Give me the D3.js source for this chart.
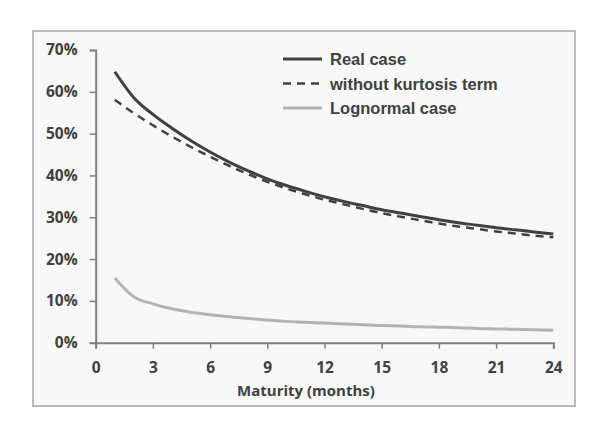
<!DOCTYPE html>
<html lang="en">
  <head>
    <meta charset="UTF-8" />
    <title>Maturity chart</title>
    <style>
      body { margin: 0; background: #fff; }
    </style>
  </head>
  <body>
    <svg id="svg" width="606" height="428"></svg>
    <script src="https://d3js.org/d3.v7.min.js"></script>
    <script>
      // data (percent, by maturity in months)
      const months = [1, 2, 3, 4, 5, 6, 7, 8, 9, 10, 11, 12, 13, 14, 15, 16, 17, 18, 19, 20, 21, 22, 23, 24];
      const realCase = [64.8, 58.6, 54.6, 51.3, 48.3, 45.6, 43.2, 41.1, 39.2, 37.6, 36.2, 34.9, 33.8, 32.8, 31.8, 31.0, 30.2, 29.4, 28.7, 28.1, 27.5, 27.0, 26.5, 26.0];
      const noKurtosis = [58.1, 54.9, 52.0, 49.3, 46.8, 44.5, 42.3, 40.3, 38.5, 36.9, 35.5, 34.2, 33.1, 32.0, 31.0, 30.1, 29.3, 28.5, 27.8, 27.2, 26.6, 26.1, 25.6, 25.2];
      const lognormal = [15.5, 11.0, 9.3, 8.1, 7.3, 6.7, 6.2, 5.8, 5.4, 5.1, 4.9, 4.7, 4.5, 4.3, 4.1, 4.0, 3.8, 3.7, 3.6, 3.4, 3.3, 3.2, 3.1, 3.0];
      const xTicks = [0, 3, 6, 9, 12, 15, 18, 21, 24];
      const yTicks = [0, 10, 20, 30, 40, 50, 60, 70];

      const series = [
        { name: "Real case", values: realCase, color: "#404040", width: 3, dash: null },
        { name: "without kurtosis term", values: noKurtosis, color: "#404040", width: 2.5, dash: "8,6" },
        { name: "Lognormal case", values: lognormal, color: "#b4b4b4", width: 3, dash: null },
      ];

      const svg = d3.select("#svg");
      const textColor = "#404040";

      // outer frame
      svg.append("rect")
        .attr("x", 33).attr("y", 31)
        .attr("width", 542).attr("height", 375)
        .attr("fill", "#f8f8f8")
        .attr("stroke", "#a6a6a6")
        .attr("stroke-width", 1.5);

      const x = d3.scaleLinear().domain([0, 24]).range([95.7, 553.3]);
      const y = d3.scaleLinear().domain([0, 70]).range([342.7, 50]);

      // x axis
      const xAxis = svg.append("g")
        .attr("transform", `translate(0, ${y(0)})`)
        .call(d3.axisBottom(x).tickValues(xTicks).tickSize(6).tickPadding(13));
      xAxis.select(".domain").attr("stroke", "#808080").attr("stroke-width", 2);
      xAxis.selectAll(".tick line").attr("stroke", "#808080").attr("stroke-width", 1.5);
      xAxis.selectAll(".tick text")
        .attr("fill", textColor)
        .style("font-family", "'Open Sans', sans-serif")
        .style("font-weight", "bold")
        .style("font-size", "15.5px");

      // y axis
      const yAxis = svg.append("g")
        .attr("transform", `translate(${x(0)}, 0)`)
        .call(d3.axisLeft(y).tickValues(yTicks).tickSize(6).tickPadding(12).tickFormat((d) => d + "%"));
      yAxis.select(".domain").attr("stroke", "#808080").attr("stroke-width", 2);
      yAxis.selectAll(".tick line").attr("stroke", "#808080").attr("stroke-width", 1.5);
      yAxis.selectAll(".tick text")
        .attr("fill", textColor)
        .style("font-family", "'Open Sans', sans-serif")
        .style("font-weight", "bold")
        .style("font-size", "15.5px");

      // axis title
      svg.append("text")
        .attr("x", 306).attr("y", 396)
        .attr("text-anchor", "middle")
        .attr("fill", textColor)
        .style("font-family", "'Open Sans', sans-serif")
        .style("font-weight", "bold")
        .style("font-size", "15px")
        .text("Maturity (months)");

      // lines
      const line = d3.line()
        .x((d, i) => x(months[i]))
        .y((d) => y(d))
        .curve(d3.curveMonotoneX);

      svg.append("g")
        .selectAll("path")
        .data(series)
        .join("path")
        .attr("d", (d) => line(d.values))
        .attr("fill", "none")
        .attr("stroke", (d) => d.color)
        .attr("stroke-width", (d) => d.width)
        .attr("stroke-dasharray", (d) => d.dash);

      // legend
      const legend = svg.append("g")
        .selectAll("g")
        .data(series)
        .join("g")
        .attr("transform", (d, i) => `translate(283, ${59 + i * 24.5})`);
      legend.append("line")
        .attr("x1", 0).attr("x2", 39)
        .attr("stroke", (d) => d.color)
        .attr("stroke-width", (d) => d.width)
        .attr("stroke-dasharray", (d) => d.dash);
      legend.append("text")
        .attr("x", 47).attr("y", 6)
        .attr("fill", textColor)
        .style("font-family", "'Liberation Sans', Arial, sans-serif")
        .style("font-weight", "bold")
        .style("font-size", "16.5px")
        .text((d) => d.name);
    </script>
  </body>
</html>
